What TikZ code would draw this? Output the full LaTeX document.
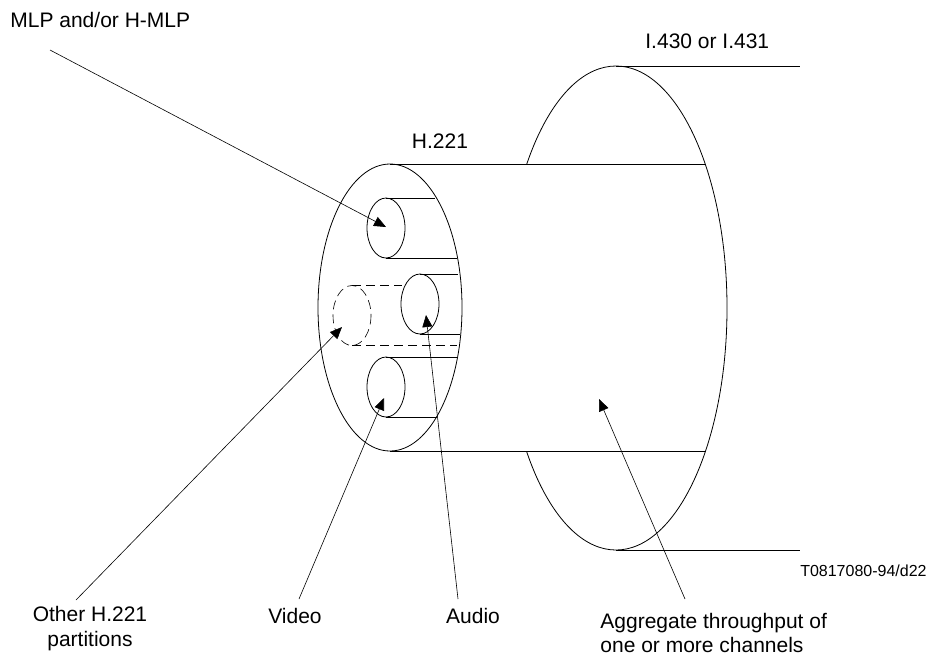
\documentclass[tikz,border=0pt]{standalone}
\usepackage{fontspec}
\setmainfont{Liberation Sans}
\usetikzlibrary{arrows.meta}
\begin{document}
\begin{tikzpicture}[x=1pt,y=-1pt,line width=0.8pt,line cap=butt,
  lab/.style={font=\fontsize{21}{25}\selectfont,align=center,inner sep=0pt},
  tipline/.style={line width=0.6pt,-{Triangle[length=12pt,width=10pt]}},
  hidden/.style={line width=0.6pt,dash pattern=on 9pt off 5pt}]
\useasboundingbox (0,0) rectangle (928,657);
% large ellipse
\coordinate (bigtop) at (616,66);
\coordinate (bigbot) at (616,550);
\begin{scope}
  \clip (400,0) rectangle (800,164);
  \draw (616,308) ellipse[x radius=111, y radius=242];
\end{scope}
\begin{scope}
  \clip (400,451) rectangle (800,657);
  \draw (616,308) ellipse[x radius=111, y radius=242];
\end{scope}
\begin{scope}
  \clip (616,164) rectangle (800,451);
  \draw (616,308) ellipse[x radius=111, y radius=242];
\end{scope}
\coordinate (topend) at (800,66);
\coordinate (botend) at (800,550);
\draw (bigtop) -- (topend);
\draw (bigbot) -- (botend);
% outer cable
\coordinate (ctop) at (390,164);
\coordinate (cbot) at (390,451);
\coordinate (ctopr) at (705,164);
\coordinate (cbotr) at (705,451);
\draw (390,307.5) ellipse[x radius=72, y radius=143.5];
\draw (ctop) -- (ctopr);
\draw (cbot) -- (cbotr);
% partitions
\draw (386,228) ellipse[x radius=19, y radius=30];
\draw (386,198) -- (435,198);
\draw (386,258) -- (457,258);
\draw (420,304) ellipse[x radius=19, y radius=30];
\draw (420,274) -- (458,274);
\draw (420,334) -- (460,334);
\draw (386,387) ellipse[x radius=19, y radius=30];
\draw (386,357) -- (457,357);
\draw (386,417) -- (437,417);
\draw[hidden] (352,315.5) ellipse[x radius=19, y radius=30];
\draw[hidden] (352,285.5) -- (402,285.5);
\draw[hidden] (352,345.5) -- (457,345.5);
% labels
\node[lab,anchor=base west] (mlp) at (10,27) {MLP and/or H-MLP};
\node[lab,anchor=base west] (iso) at (645,48) {I.430 or I.431};
\node[lab,anchor=base] (h221) at (440,148) {H.221};
\node[lab,anchor=base east,font=\fontsize{16}{19}\selectfont] (ref) at (927,576) {T0817080-94/d22};
\node[lab,anchor=base] (other) at (90,646) {Other H.221\\partitions};
\node[lab,anchor=base] (video) at (295,623) {Video};
\node[lab,anchor=base] (audio) at (473,623) {Audio};
\node[lab,anchor=base west,align=left,font=\fontsize{21}{24.5}\selectfont] (agg) at (600,652.5) {Aggregate throughput of\\one or more channels};
% arrows
\coordinate (mlpS) at (50,50);
\coordinate (mlpT) at (386,227);
\coordinate (othS) at (76,600);
\coordinate (othT) at (342,327);
\coordinate (vidS) at (299,599);
\coordinate (vidT) at (384,398);
\coordinate (audS) at (458,599);
\coordinate (audT) at (426,315);
\coordinate (aggS) at (685,599);
\coordinate (aggT) at (599,399);
\draw[tipline] (mlpS) -- (mlpT);
\draw[tipline] (othS) -- (othT);
\draw[tipline] (vidS) -- (vidT);
\draw[tipline] (audS) -- (audT);
\draw[tipline] (aggS) -- (aggT);
\end{tikzpicture}
\end{document}
